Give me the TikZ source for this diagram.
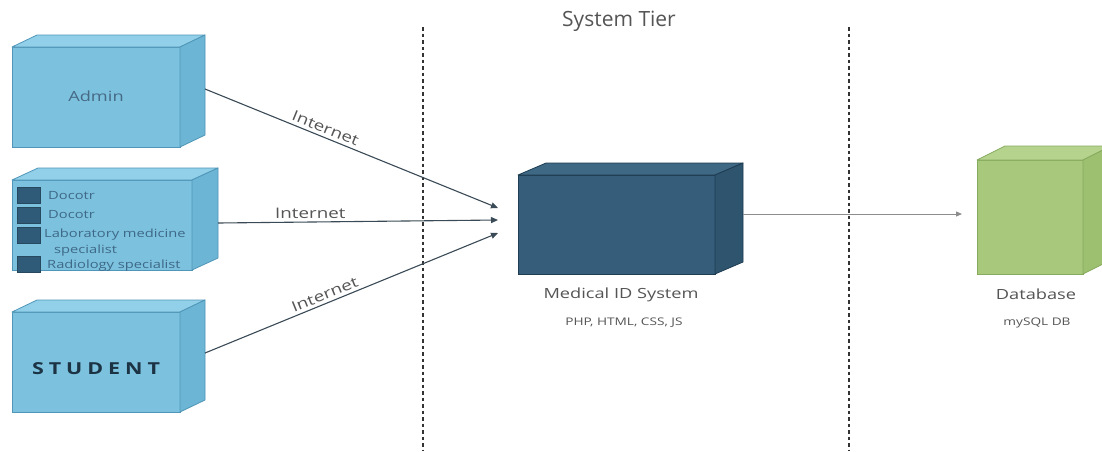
\documentclass[tikz,border=0pt]{standalone}
\usepackage{fontspec}
% drawing labels use a horizontally widened Open Sans
\setmainfont{Open Sans}[FakeStretch=1.3]
\newfontfamily\titlefont{Open Sans}
\usetikzlibrary{calc,arrows.meta}

\definecolor{nodefront}{RGB}{124,194,223}
\definecolor{nodetop}{RGB}{146,208,233}
\definecolor{nodeside}{RGB}{108,181,213}
\definecolor{nodeedge}{RGB}{80,150,184}
\definecolor{appfront}{RGB}{54,94,122}
\definecolor{apptop}{RGB}{62,104,132}
\definecolor{appside}{RGB}{46,84,110}
\definecolor{appedge}{RGB}{30,60,82}
\definecolor{dbfront}{RGB}{168,201,124}
\definecolor{dbtop}{RGB}{182,211,142}
\definecolor{dbside}{RGB}{157,192,112}
\definecolor{dbedge}{RGB}{134,170,94}
\definecolor{labelgray}{RGB}{85,85,85}
\definecolor{wiregray}{RGB}{58,74,86}
\definecolor{rolefill}{RGB}{47,91,120}
\definecolor{roletext}{RGB}{62,104,134}
\definecolor{admintext}{RGB}{70,105,132}
\definecolor{studtext}{RGB}{28,51,68}

\newcommand\fsz[1]{\fontsize{#1}{#1}\selectfont}

% top and right faces of a box whose front face is the node #1
\newcommand\boxfaces[5]{%
  \draw[draw=#4, line width=0.8, fill=#2, line join=round]
    (#1.north west) -- ++(#5) -- ($(#1.north east)+(#5)$) -- (#1.north east) -- cycle;
  \draw[draw=#4, line width=0.8, fill=#3, line join=round]
    (#1.north east) -- ($(#1.north east)+(#5)$) -- ($(#1.south east)+(#5)$) -- (#1.south east) -- cycle;
}

\tikzset{
  front/.style={draw, line width=0.8, inner sep=0, outer sep=0, anchor=north west},
  label/.style={text=labelgray, inner sep=0},
  tierline/.style={draw=black!80, line width=1.8, dash pattern=on 3.5 off 3},
  wire/.style={draw=wiregray, line width=1.1, -{Triangle[length=7,width=6]}},
  dbwire/.style={draw=black!45, line width=1, -{Triangle[length=6,width=5]}},
  wirelabel/.style={text=labelgray, font=\fsz{14.5}, inner sep=3, sloped, above},
  rolebox/.style={draw=rolefill!80!black, line width=0.6, fill=rolefill, inner sep=0,
    minimum width=23, minimum height=16, anchor=north west},
  roletxt/.style={text=roletext, font=\fsz{11.3}, inner sep=0, anchor=west}
}

\begin{document}
\begin{tikzpicture}[x=1pt,y=-1pt]
\clip (0,0) rectangle (1102,451);
\fill[white] (0,0) rectangle (1102,451);

% tier separators
\coordinate (sepAtop) at (423,27);
\coordinate (sepAbot) at (423,451);
\coordinate (sepBtop) at (849,27);
\coordinate (sepBbot) at (849,451);
\draw[tierline] (sepAtop) -- (sepAbot);
\draw[tierline] (sepBtop) -- (sepBbot);

\node[label, font=\titlefont\fsz{21}] (title) at (619,21) {System Tier};

% client machines
\node[front, draw=nodeedge, fill=nodefront, minimum width=168, minimum height=100] (admin) at (12,47) {};
\boxfaces{admin}{nodetop}{nodeside}{nodeedge}{25,-12}
\node[text=admintext, font=\fsz{14}, inner sep=0] (admintxt) at ($(admin.center)+(0,-1)$) {Admin};

\node[front, draw=nodeedge, fill=nodefront, minimum width=180, minimum height=90] (staff) at (12,180) {};
\boxfaces{staff}{nodetop}{nodeside}{nodeedge}{26,-12}
\node[rolebox] (r1) at (17,187) {};
\node[rolebox] (r2) at (17,207) {};
\node[rolebox] (r3) at (17,227) {};
\node[rolebox] (r4) at (17,256) {};
\node[roletxt] (t1) at (48,196) {Docotr};
\node[roletxt] (t2) at (48,215) {Docotr};
\node[roletxt] (t3) at (44,235) {Laboratory medicine};
\node[roletxt] (t3b) at (54,251) {specialist};
\node[roletxt] (t4) at (47,266) {Radiology specialist};

\node[front, draw=nodeedge, fill=nodefront, minimum width=168, minimum height=100] (student) at (12,312) {};
\boxfaces{student}{nodetop}{nodeside}{nodeedge}{25,-12}
\node[text=studtext, font=\fsz{16.5}\bfseries\addfontfeature{LetterSpace=30}, inner sep=0] (studtxt)
  at ($(student.center)+(0,7)$) {STUDENT};

% application server
\node[front, draw=appedge, fill=appfront, minimum width=197, minimum height=99] (med) at (518,175) {};
\boxfaces{med}{apptop}{appside}{appedge}{28,-12}
\node[label, font=\fsz{14}] (medname) at (621,295) {Medical ID System};
\node[label, font=\fsz{10.5}] (medtech) at (624,323) {PHP, HTML, CSS, JS};

% database server
\node[front, draw=dbedge, fill=dbfront, minimum width=106, minimum height=114] (db) at (977,160) {};
\boxfaces{db}{dbtop}{dbside}{dbedge}{28,-14}
\node[label, font=\fsz{14}] (dbname) at (1036,294) {Database};
\node[label, font=\fsz{10.5}] (dbtech) at (1037,323) {mySQL DB};

% connections
\coordinate (adminOut) at ($(admin.east)+(25,-8)$);
\coordinate (staffOut) at ($(staff.east)+(26,-2)$);
\coordinate (studOut) at ($(student.east)+(25,-9)$);
\coordinate (in1) at ($(med.west)+(-20,-16.5)$);
\coordinate (in2) at ($(med.west)+(-20,-4.5)$);
\coordinate (in3) at ($(med.west)+(-20,8.5)$);
\coordinate (medOut) at ($(med.east)+(28,-10.5)$);
\coordinate (dbIn) at ($(db.west)+(-15,-3)$);

\draw[wire] (adminOut) -- node[wirelabel, pos=0.40] {Internet} (in1);
\draw[wire] (staffOut) -- node[wirelabel, pos=0.33] {Internet} (in2);
\draw[wire] (studOut) -- node[wirelabel, pos=0.42] {Internet} (in3);
\draw[dbwire] (medOut) -- (dbIn);
\end{tikzpicture}
\end{document}
